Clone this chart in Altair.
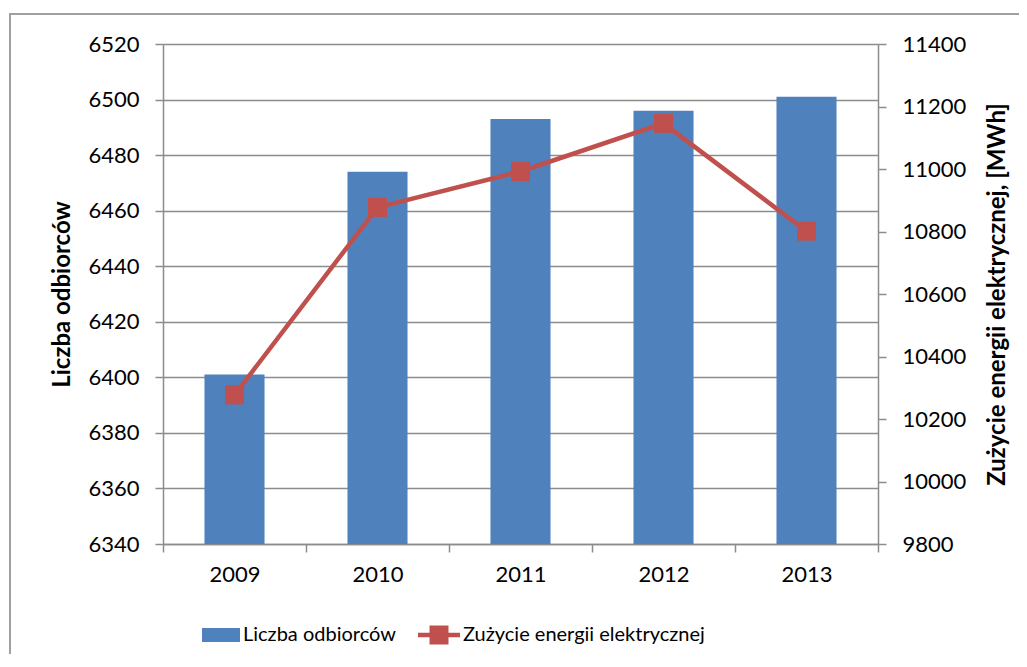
import altair as alt
import pandas as pd

years = ["2009", "2010", "2011", "2012", "2013"]
odbiorcy = [6401, 6474, 6493, 6496, 6501]
energia = [10277, 10877, 10992, 11146, 10801]
left_ticks = [6340, 6360, 6380, 6400, 6420, 6440, 6460, 6480, 6500, 6520]
right_ticks = [9800, 10000, 10200, 10400, 10600, 10800, 11000, 11200, 11400]
legend_labels = ["Liczba odbiorców", "Zużycie energii elektrycznej"]
left_title = "Liczba odbiorców"
right_title = "Zużycie energii elektrycznej, [MWh]"

FONT = "Lato"
FS = 22
TFS = 24
LFS = 20
GRID = "#8c8c8c"
BLUE = "#4F81BD"
RED = "#C0504D"

df = pd.DataFrame({"rok": years, "odbiorcy": odbiorcy, "energia": energia})
one = pd.DataFrame({"k": [0]})

W, H = 715, 500

xscale = alt.Scale(domain=years, paddingInner=0, paddingOuter=0)
xenc = alt.X(
    "rok:N",
    sort=years,
    scale=xscale,
    axis=alt.Axis(
        title=None, labelAngle=0, tickBand="extent", tickSize=8,
        labelPadding=12, labelFontSize=FS, labelFont=FONT, labelColor="black",
        domainColor=GRID, tickColor=GRID, domainWidth=1.5, tickWidth=1.5, grid=False,
    ),
)

bars = alt.Chart(df).mark_bar(color=BLUE, width=alt.RelativeBandSize(0.42), clip=True).encode(
    x=xenc,
    y=alt.Y(
        "odbiorcy:Q",
        scale=alt.Scale(domain=[6340, 6520], zero=False, nice=False),
        axis=alt.Axis(
            values=left_ticks, format="d", title=left_title, titleFont=FONT, titleFontSize=TFS,
            titleFontWeight="bold", titleColor="black",
            titleX=-101, titleY=H / 2, titleAngle=270, titleAlign="center", titleBaseline="middle",
            labelFont=FONT, labelFontSize=FS, labelColor="black", labelPadding=16,
            tickSize=8, tickColor=GRID, tickWidth=1.5, domainColor=GRID, domainWidth=1.5,
            grid=True, gridColor=GRID, gridWidth=1.5, gridOpacity=1,
        ),
    ),
    y2=alt.datum(6340),
)

line = alt.Chart(df).mark_line(color=RED, strokeWidth=4.5).encode(
    x=alt.X("rok:N", sort=years),
    y=alt.Y(
        "energia:Q",
        scale=alt.Scale(domain=[9800, 11400], zero=False, nice=False),
        axis=alt.Axis(
            orient="right", values=right_ticks, format="d", title=right_title, titleFont=FONT,
            titleFontSize=TFS, titleFontWeight="bold", titleColor="black",
            titleX=119, titleY=H / 2, titleAngle=270, titleAlign="center", titleBaseline="middle",
            labelFont=FONT, labelFontSize=FS, labelColor="black", labelPadding=16,
            tickSize=8, tickColor=GRID, tickWidth=1.5, domainColor=GRID, domainWidth=1.5,
            grid=False,
        ),
    ),
)
pts = alt.Chart(df).mark_square(color=RED, size=360, opacity=1).encode(
    x=alt.X("rok:N", sort=years),
    y=alt.Y("energia:Q"),
)
line_layer = alt.layer(line, pts)

# legend
leg_rect = alt.Chart(one).mark_rect(color=BLUE).encode(
    x=alt.value(39), x2=alt.value(77), y=alt.value(584), y2=alt.value(598)
)
leg_rule = alt.Chart(one).mark_rule(color=RED, strokeWidth=4.5).encode(
    x=alt.value(255), x2=alt.value(297), y=alt.value(591)
)
leg_sq = alt.Chart(one).mark_square(color=RED, size=360, opacity=1).encode(
    x=alt.value(276), y=alt.value(591)
)
leg_t1 = alt.Chart(one).mark_text(
    align="left", baseline="middle", font=FONT, fontSize=LFS, color="black"
).encode(x=alt.value(80), y=alt.value(591), text=alt.value(legend_labels[0]))
leg_t2 = alt.Chart(one).mark_text(
    align="left", baseline="middle", font=FONT, fontSize=LFS, color="black"
).encode(x=alt.value(300), y=alt.value(591), text=alt.value(legend_labels[1]))

border = alt.Chart(one).mark_rect(fill=None, stroke="#a0a0a0", strokeWidth=2).encode(
    x=alt.value(-153), x2=alt.value(900), y=alt.value(-30), y2=alt.value(700)
)
deco = alt.layer(leg_rect, leg_rule, leg_sq, leg_t1, leg_t2, border)

chart = (
    alt.layer(bars, line_layer, deco)
    .resolve_scale(y="independent")
    .properties(
        width=W, height=H,
        autosize=alt.AutoSizeParams(type="none"),
        padding={"left": 155, "top": 36, "right": 141, "bottom": 110},
    )
    .configure_view(stroke=None)
    .configure(background="white")
)

chart.save("out.html", embed_options={"renderer": "svg", "actions": False})
